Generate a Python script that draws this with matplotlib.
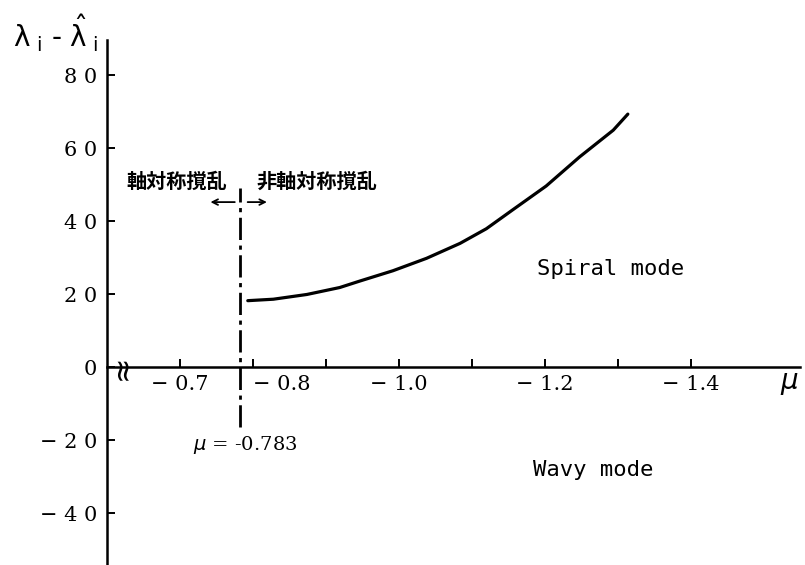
import matplotlib
matplotlib.use('Agg')
import matplotlib.pyplot as plt
import numpy as np

# curve: mu vs lambda_i - lambda_hat_i
mu = [-0.793, -0.828, -0.874, -0.919, -0.947, -0.992, -1.038, -1.084,
      -1.120, -1.157, -1.202, -1.248, -1.294, -1.314]
lam_diff = [18.2, 18.6, 19.9, 21.8, 23.6, 26.4, 29.8, 33.9,
            37.9, 43.2, 49.6, 57.6, 64.9, 69.3]

x_ticks = [-0.7, -0.8, -0.9, -1.0, -1.1, -1.2, -1.3, -1.4]
x_labels = ['− 0.7', '− 0.8', '', '− 1.0', '', '− 1.2', '', '− 1.4']
y_ticks = [80, 60, 40, 20, 0, -20, -40]
y_labels = ['8 0', '6 0', '4 0', '2 0', '0', '− 2 0', '− 4 0']

mu_crit = -0.783

plt.rcParams['font.family'] = ['DejaVu Serif', 'Noto Sans CJK JP']

fig = plt.figure(figsize=(8.05, 5.65), dpi=100)
ax = fig.add_axes([107 / 805, 0, 1 - 112 / 805, (565 - 40) / 565])
ax.set_xlim(-0.6, -1.55)
ax.set_ylim(-54.2, 89.6)
ax.patch.set_alpha(0)

for s in ['top', 'right']:
    ax.spines[s].set_visible(False)
ax.spines['bottom'].set_position(('data', 0))
ax.spines['left'].set_linewidth(1.8)
ax.spines['bottom'].set_linewidth(1.8)

ax.set_xticks(x_ticks)
ax.set_xticklabels(x_labels, fontsize=15)
ax.set_yticks(y_ticks)
ax.set_yticklabels(y_labels, fontsize=15)
ax.tick_params(axis='both', direction='in', length=6, width=1.4, pad=7)
ax.tick_params(axis='x', pad=6)
# the -0.8 label sits to the right of the critical line
for t, v in zip(ax.get_xticklabels(), x_ticks):
    if v == -0.8:
        t.set_horizontalalignment('left')

# curve
ax.plot(mu, lam_diff, color='black', linewidth=2.3, solid_capstyle='round',
        solid_joinstyle='round')

# critical mu line
ax.plot([mu_crit, mu_crit], [-16.4, 49], color='black', linewidth=2.0,
        linestyle=(0, (8, 2, 1.5, 2)))
ax.annotate('', xy=(-0.738, 45.2), xytext=(mu_crit + 0.004, 45.2),
            arrowprops=dict(arrowstyle='->', color='black', lw=1.3))
ax.annotate('', xy=(-0.823, 45.2), xytext=(mu_crit - 0.006, 45.2),
            arrowprops=dict(arrowstyle='->', color='black', lw=1.3))

ax.text(-0.764, 51, '軸対称撹乱', family=['Noto Sans CJK JP'], fontsize=14.5,
        fontweight='bold', ha='right', va='center')
ax.text(-0.8055, 51, '非軸対称撹乱', family=['Noto Sans CJK JP'], fontsize=14.5,
        fontweight='bold', ha='left', va='center')
ax.text(-0.789, -21.4, r'$\mu$ = -0.783', fontsize=14, ha='center', va='center')

ax.text(-1.190, 26.8, 'Spiral mode', family=['DejaVu Sans Mono'], fontsize=16,
        ha='left', va='center')
ax.text(-1.1836, -28.2, 'Wavy mode', family=['DejaVu Sans Mono'], fontsize=16,
        ha='left', va='center')

# axis name at right end and break mark
ax.text(-1.536, -4.4, r'$\mu$', fontsize=20, ha='center', va='center')
ax.text(-0.621, 0, '≈', fontsize=22, rotation=90, ha='center', va='center',
        family=['DejaVu Sans'])

fig.text(13 / 805, 1 - 33 / 565,
         r'$\mathrm{\lambda}_{\ \mathrm{i}}$ - $\hat{\mathrm{\lambda}}_{\ \mathrm{i}}$',
         fontsize=20, ha='left', va='center', family=['DejaVu Sans'])

fig.savefig('out.png', dpi=100)
